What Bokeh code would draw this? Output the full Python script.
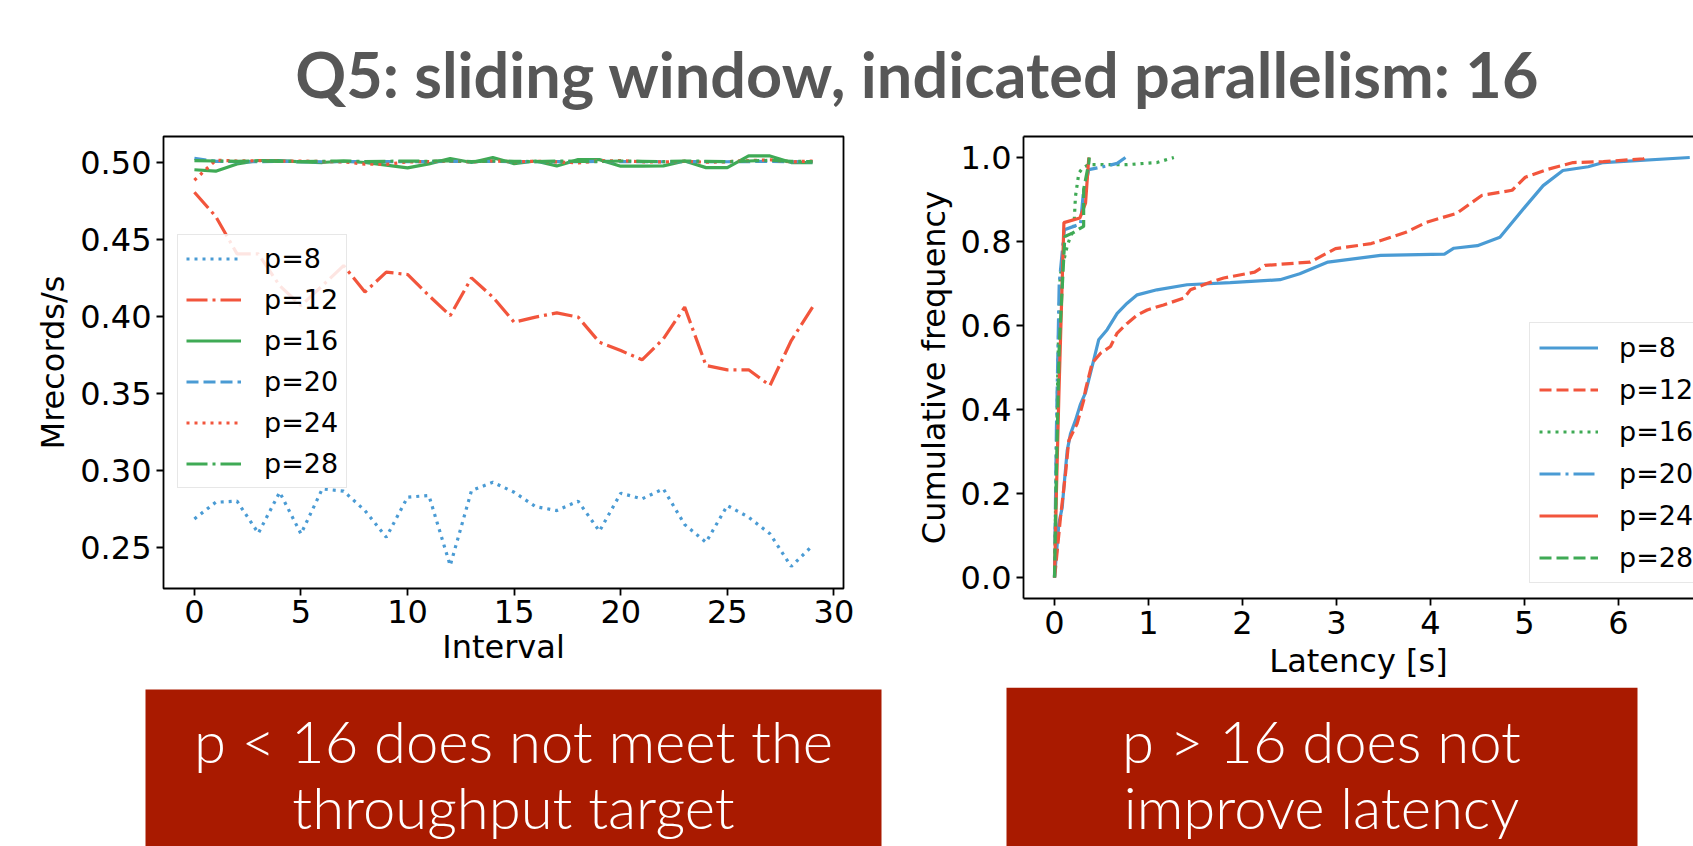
from bokeh.plotting import figure
from bokeh.models import (Range1d, Legend, LegendItem, LinearAxis, FixedTicker,
                          Label, BoxAnnotation, PrintfTickFormatter)
from bokeh.layouts import column, row
from bokeh.embed import file_html
from bokeh.resources import INLINE

# ---------------- data ----------------
series_labels = ["p=8", "p=12", "p=16", "p=20", "p=24", "p=28"]

intervals = list(range(30))
tp_p8 = [0.2686, 0.2794, 0.2801, 0.2593, 0.2859, 0.2589, 0.2881, 0.2866, 0.2740, 0.2567,
         0.2827, 0.2838, 0.2383, 0.2870, 0.2924, 0.2859, 0.2766, 0.2740, 0.2801, 0.2606,
         0.2853, 0.2816, 0.2881, 0.2649, 0.2534, 0.2773, 0.2697, 0.2589, 0.2377, 0.2513]
tp_p12 = [0.4807, 0.4650, 0.4407, 0.4407, 0.4200, 0.4071, 0.4200, 0.4331, 0.4159, 0.4288,
          0.4273, 0.4136, 0.4006, 0.4251, 0.4126, 0.3963, 0.3996, 0.4024, 0.3996, 0.3833,
          0.3779, 0.3719, 0.3855, 0.4061, 0.3682, 0.3654, 0.3654, 0.3552, 0.3844, 0.4061]
tp_p16 = [0.4953, 0.4944, 0.4991, 0.5013, 0.5013, 0.5004, 0.5000, 0.5010, 0.5000, 0.4983,
          0.4965, 0.4991, 0.5026, 0.5000, 0.5032, 0.4993, 0.5010, 0.4978, 0.5019, 0.5019,
          0.4976, 0.4976, 0.4978, 0.5010, 0.4967, 0.4967, 0.5043, 0.5043, 0.5000, 0.5000]
tp_p20 = [0.5027, 0.5008, 0.5006, 0.5006, 0.5008, 0.5006, 0.5005, 0.5006, 0.5005, 0.5006,
          0.5006, 0.5006, 0.5008, 0.5006, 0.5007, 0.5006, 0.5005, 0.5006, 0.5006, 0.5007,
          0.5006, 0.5006, 0.5005, 0.5006, 0.5006, 0.5005, 0.5006, 0.5008, 0.5005, 0.5006]
tp_p24 = [0.4885, 0.5015, 0.5010, 0.5012, 0.5008, 0.5010, 0.5006, 0.5004, 0.4990, 0.4988,
          0.5004, 0.5006, 0.5010, 0.5004, 0.5010, 0.5005, 0.5008, 0.5004, 0.4998, 0.5010,
          0.5012, 0.5005, 0.5004, 0.5008, 0.5002, 0.5005, 0.5012, 0.5018, 0.5004, 0.5010]
tp_p28 = [0.5012, 0.5010, 0.5008, 0.5010, 0.5008, 0.5006, 0.5008, 0.5010, 0.5006, 0.5008,
          0.5010, 0.5008, 0.5012, 0.5006, 0.5010, 0.5008, 0.5006, 0.5010, 0.5008, 0.5006,
          0.5010, 0.5008, 0.5006, 0.5010, 0.5008, 0.5006, 0.5010, 0.5014, 0.5008, 0.5006]

lat_p8 = [0.0, 0.046, 0.082, 0.10, 0.135, 0.17, 0.223, 0.277, 0.33, 0.40, 0.47, 0.56, 0.667,
          0.773, 0.88, 1.09, 1.41, 1.87, 2.40, 2.61, 2.91, 3.47, 4.15, 4.25, 4.50, 4.74, 5.01,
          5.20, 5.41, 5.68, 5.84, 6.76]
cdf_p8 = [0.0, 0.128, 0.167, 0.215, 0.302, 0.342, 0.374, 0.413, 0.44, 0.502, 0.566, 0.59, 0.629,
          0.653, 0.673, 0.685, 0.697, 0.702, 0.709, 0.723, 0.751, 0.767, 0.770, 0.784, 0.79, 0.81,
          0.883, 0.933, 0.969, 0.978, 0.988, 1.0]
lat_p12 = [0.0, 0.01, 0.064, 0.117, 0.152, 0.24, 0.31, 0.33, 0.40, 0.49, 0.596, 0.667, 0.773,
           0.88, 0.986, 1.16, 1.375, 1.447, 1.62, 1.80, 2.13, 2.24, 2.72, 2.99, 3.37, 3.74, 3.96,
           4.28, 4.55, 4.87, 5.01, 5.25, 5.52, 5.84, 6.27, 6.30]
cdf_p12 = [0.0, 0.02, 0.144, 0.247, 0.326, 0.366, 0.421, 0.447, 0.51, 0.534, 0.55, 0.582, 0.605,
           0.625, 0.637, 0.649, 0.665, 0.685, 0.70, 0.713, 0.727, 0.743, 0.751, 0.783, 0.795,
           0.822, 0.846, 0.867, 0.91, 0.922, 0.953, 0.972, 0.988, 0.99, 0.997, 1.0]
lat_p16 = [0.0, 0.02, 0.04, 0.06, 0.10, 0.135, 0.17, 0.205, 0.223, 0.259, 0.30, 0.365, 0.773,
           1.09, 1.27]
cdf_p16 = [0.0, 0.30, 0.55, 0.72, 0.756, 0.789, 0.812, 0.828, 0.907, 0.963, 0.975, 0.983, 0.983,
           0.988, 1.0]
lat_p20 = [0.0, 0.02, 0.05, 0.105, 0.205, 0.277, 0.305, 0.365, 0.56, 0.667, 0.755]
cdf_p20 = [0.0, 0.35, 0.70, 0.828, 0.836, 0.842, 0.911, 0.971, 0.98, 0.986, 1.0]
lat_p24 = [0.0, 0.02, 0.046, 0.10, 0.27, 0.33, 0.365]
cdf_p24 = [0.0, 0.20, 0.43, 0.845, 0.856, 0.891, 1.0]
lat_p28 = [0.0, 0.02, 0.05, 0.11, 0.19, 0.31, 0.31, 0.365, 0.37]
cdf_p28 = [0.0, 0.25, 0.55, 0.812, 0.82, 0.836, 0.924, 0.987, 1.0]

title_text = "Q5: sliding window, indicated parallelism: 16"
box1_lines = ["p < 16 does not meet the", "throughput target"]
box2_lines = ["p > 16 does not", "improve latency"]

# ---------------- styles ----------------
BLUE, RED, GREEN = "#4a9bd4", "#f2553c", "#3faa55"
LW = 3.2
DOT, DASH, DASHDOT = "3 5", "12 5", "21 5 3 5"
TICK_FONT = "DejaVu Sans"

def style_axes(p):
    p.xgrid.visible = False
    p.ygrid.visible = False
    for ax in p.xaxis + p.yaxis:
        ax.major_label_text_font = TICK_FONT
        ax.major_label_text_font_size = "32px"
        ax.major_label_text_color = "black"
        ax.axis_label_text_font = TICK_FONT
        ax.axis_label_text_font_size = "32px"
        ax.axis_label_text_font_style = "normal"
        ax.axis_label_text_color = "black"
        ax.major_tick_out = 7
        ax.major_tick_in = 0
        ax.minor_tick_out = 0
        ax.minor_tick_in = 0
        ax.major_tick_line_width = 1.8
        ax.major_tick_line_color = "black"

def make_legend(items, loc, padding, spacing, glyph_w, standoff):
    lg = Legend(items=items, location=loc)
    lg.label_text_font = TICK_FONT
    lg.label_text_font_size = "27px"
    lg.label_text_color = "black"
    lg.glyph_width = glyph_w
    lg.glyph_height = 31
    lg.label_height = 31
    lg.spacing = spacing
    lg.padding = padding
    lg.margin = 0
    lg.label_standoff = standoff
    lg.border_line_color = "#d0d0d0"
    lg.border_line_width = 1.5
    lg.background_fill_alpha = 0.85
    return lg

# ---------------- title ----------------
title_fig = figure(width=1693, height=120, x_range=Range1d(0, 1693), y_range=Range1d(120, 0),
                   output_backend="svg", toolbar_location=None, min_border=0,
                   x_axis_location=None, y_axis_location=None, outline_line_color=None)
title_fig.grid.visible = False
title_fig.add_layout(Label(x=917, y=73, text=title_text, text_align="center",
                           text_baseline="alphabetic", text_font="Lato", text_font_style="bold",
                           text_font_size="63px", text_color="#575757"))

# ---------------- left chart ----------------
left = figure(width=900, height=567, x_range=Range1d(-1.45, 30.45),
              y_range=Range1d(0.2234, 0.5169), output_backend="svg", toolbar_location=None,
              min_border_left=163, min_border_right=57, min_border_top=16, min_border_bottom=99,
              outline_line_color="black", outline_line_width=1.8)
left_series = [tp_p8, tp_p12, tp_p16, tp_p20, tp_p24, tp_p28]
left_styles = [(BLUE, DOT), (RED, DASHDOT), (GREEN, "solid"), (BLUE, DASH), (RED, DOT), (GREEN, DASHDOT)]
left_items = []
for lab, ys, (c, d) in zip(series_labels, left_series, left_styles):
    r = left.line(intervals, ys, line_color=c, line_width=LW, line_dash=d)
    left_items.append(LegendItem(label=lab, renderers=[r]))
left.xaxis.ticker = FixedTicker(ticks=[0, 5, 10, 15, 20, 25, 30])
left.yaxis.ticker = FixedTicker(ticks=[0.25, 0.30, 0.35, 0.40, 0.45, 0.50])
left.yaxis.formatter = PrintfTickFormatter(format="%.2f")
left.xaxis.axis_label = "Interval"
left.yaxis.axis_label = "Mrecords/s"
style_axes(left)
left.xaxis.axis_line_color = None
left.yaxis.axis_line_color = None
left.xaxis.major_label_standoff = 4
left.xaxis.axis_label_standoff = 2
left.yaxis.major_label_standoff = 5
left.add_layout(make_legend(left_items, (14, 100), 8, 10, 55, 23))

# ---------------- right chart ----------------
right = figure(width=793, height=567, x_range=Range1d(-0.33, 6.80),
               y_range=Range1d(-0.05, 1.05), output_backend="svg", toolbar_location=None,
               min_border_left=123, min_border_right=0, min_border_top=16, min_border_bottom=89,
               outline_line_color=None)
right_lat = [lat_p8, lat_p12, lat_p16, lat_p20, lat_p24, lat_p28]
right_cdf = [cdf_p8, cdf_p12, cdf_p16, cdf_p20, cdf_p24, cdf_p28]
right_styles = [(BLUE, "solid"), (RED, DASH), (GREEN, DOT), (BLUE, DASHDOT), (RED, "solid"), (GREEN, DASH)]
right_items = []
for lab, xs, ys, (c, d) in zip(series_labels, right_lat, right_cdf, right_styles):
    r = right.line(xs, ys, line_color=c, line_width=LW, line_dash=d)
    right_items.append(LegendItem(label=lab, renderers=[r]))
right.xaxis.ticker = FixedTicker(ticks=[0, 1, 2, 3, 4, 5, 6, 7])
right.yaxis.ticker = FixedTicker(ticks=[0.0, 0.2, 0.4, 0.6, 0.8, 1.0])
right.yaxis.formatter = PrintfTickFormatter(format="%.1f")
right.xaxis.axis_label = "Latency [s]"
right.yaxis.axis_label = "Cumulative frequency"
top_axis = LinearAxis(ticker=FixedTicker(ticks=[]), major_label_text_font_size="0px",
                      major_tick_out=0, major_tick_in=0, minor_tick_out=0, minor_tick_in=0,
                      axis_line_width=1.8, axis_line_color="black")
right.add_layout(top_axis, "above")
style_axes(right)
top_axis.major_tick_out = 0
top_axis.major_label_text_font_size = "0px"
for ax in right.xaxis + right.yaxis:
    ax.axis_line_width = 1.8
    ax.axis_line_color = "black"
right.xaxis[0].major_label_standoff = 6
right.xaxis[0].axis_label_standoff = 0
right.add_layout(make_legend(right_items, (506, 15), 9, 11, 59, 21))

# ---------------- message boxes ----------------
box_fig = figure(width=1693, height=159, x_range=Range1d(0, 1693), y_range=Range1d(846, 687),
                 output_backend="svg", toolbar_location=None, min_border=0,
                 x_axis_location=None, y_axis_location=None, outline_line_color=None)
box_fig.grid.visible = False
BOX_RED = "#a91a00"
box_fig.add_layout(BoxAnnotation(left=145, right=881, top=689, bottom=900, fill_color=BOX_RED,
                                 fill_alpha=1, line_color=None))
box_fig.add_layout(BoxAnnotation(left=1006, right=1637, top=687, bottom=900, fill_color=BOX_RED,
                                 fill_alpha=1, line_color=None))
for cx, lines in ((513, box1_lines), (1321, box2_lines)):
    for yy, t in zip((740, 806), lines):
        box_fig.add_layout(Label(x=cx, y=yy, text=t, text_align="center", text_baseline="alphabetic",
                                 text_font="Lato Light", text_font_size="58px", text_color="white"))

layout = column(title_fig, row(column(left), column(right)), box_fig)
open("out.html", "w").write(file_html(layout, INLINE))
